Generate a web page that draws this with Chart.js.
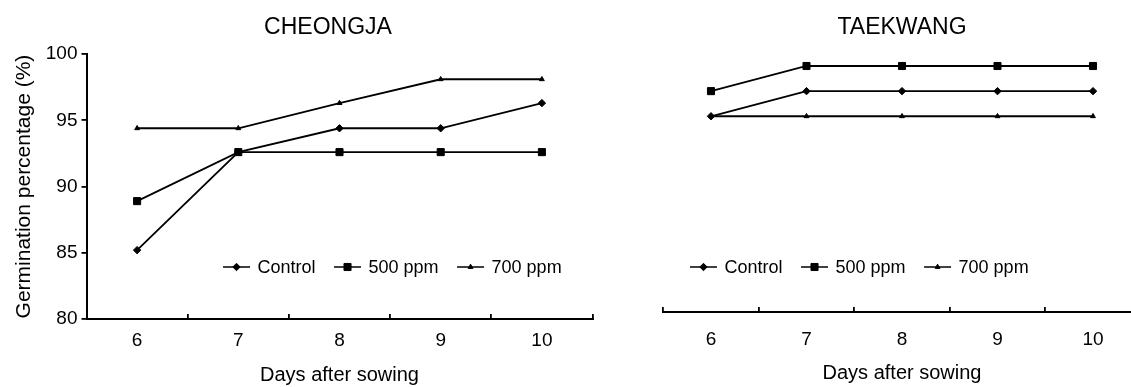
<!DOCTYPE html>
<html lang="en">
<head>
<meta charset="UTF-8">
<title>Germination percentage</title>
<script src="https://cdn.jsdelivr.net/npm/chart.js@4.4.1/dist/chart.umd.min.js"></script>
<style>
  body { margin: 0; background: #fff; overflow: hidden; }
  #wrap { position: relative; width: 1131px; height: 387px; overflow: hidden; background: #fff; }
  #left { position: absolute; left: 0; top: 0; }
  #right { position: absolute; left: 655px; top: 0; }
</style>
</head>
<body>
<div id="wrap">
  <canvas id="left" width="656" height="387"></canvas>
  <canvas id="right" width="505" height="387"></canvas>
</div>
<script>
// days after sowing
const days = ['6', '7', '8', '9', '10'];
const seriesNames = ['Control', '500 ppm', '700 ppm'];
const yTicks = [80, 85, 90, 95, 100];

// CHEONGJA
const cheongjaControl = [85.2, 92.6, 94.4, 94.4, 96.3];
const cheongja500 = [88.9, 92.6, 92.6, 92.6, 92.6];
const cheongja700 = [94.4, 94.4, 96.3, 98.1, 98.1];

// TAEKWANG
const taekwangControl = [95.3, 97.2, 97.2, 97.2, 97.2];
const taekwang500 = [97.2, 99.1, 99.1, 99.1, 99.1];
const taekwang700 = [95.3, 95.3, 95.3, 95.3, 95.3];

const FONT = '"Liberation Sans", Arial, sans-serif';
Chart.defaults.font.family = FONT;
Chart.defaults.color = '#000';

const markers = [
    { pointStyle: 'rectRot', pointRadius: 3.7 },
    { pointStyle: 'rect', pointRadius: 5 },
    { pointStyle: 'triangle', pointRadius: 2.8 }
];

function makeDatasets(values) {
    return values.map((data, i) => ({
        label: seriesNames[i],
        data: data,
        borderColor: '#000',
        backgroundColor: '#000',
        borderWidth: 1.8,
        pointBorderWidth: 1,
        pointStyle: markers[i].pointStyle,
        pointRadius: markers[i].pointRadius,
        tension: 0
    }));
}

// legend drawn as line + marker, like the figure
const lineLegend = {
    id: 'lineLegend',
    afterDraw(chart, args, opts) {
        const ctx = chart.ctx;
        let x = opts.x;
        const y = opts.y;
        ctx.save();
        ctx.font = '18px ' + FONT;
        ctx.textBaseline = 'middle';
        chart.data.datasets.forEach(ds => {
            ctx.strokeStyle = '#000';
            ctx.fillStyle = '#000';
            ctx.lineWidth = 1.5;
            ctx.beginPath();
            ctx.moveTo(x, y);
            ctx.lineTo(x + 27, y);
            ctx.stroke();
            ctx.lineWidth = 1;
            Chart.helpers.drawPoint(ctx, {
                pointStyle: ds.pointStyle,
                radius: ds.pointRadius,
                borderWidth: 1,
                rotation: 0
            }, x + 13.5, y);
            ctx.fillText(ds.label, x + 34.5, y + 1);
            x += 34.5 + ctx.measureText(ds.label).width + 18.5;
        });
        ctx.restore();
    }
};

function xScale(height, pad, titlePad) {
    return {
        type: 'category',
        offset: true,
        grid: { offset: true, drawOnChartArea: false, tickLength: -5, color: '#000', lineWidth: 1.8 },
        border: { color: '#000', width: 2 },
        ticks: { font: { size: 19 }, padding: pad, color: '#000' },
        title: { display: true, text: 'Days after sowing', font: { size: 20 }, padding: { top: 0, bottom: titlePad } },
        afterFit(scale) { scale.height = height; }
    };
}

function titleOpts(text) {
    return {
        display: true,
        text: text,
        color: '#000',
        font: { size: 23, weight: 'normal' },
        padding: { top: 14, bottom: 12.5 }
    };
}

new Chart(document.getElementById('left'), {
    type: 'line',
    data: {
        labels: days,
        datasets: makeDatasets([cheongjaControl, cheongja500, cheongja700])
    },
    options: {
        responsive: false,
        animation: false,
        layout: { padding: 0 },
        plugins: {
            legend: { display: false },
            tooltip: { enabled: false },
            title: titleOpts('CHEONGJA'),
            lineLegend: { x: 223, y: 267 }
        },
        scales: {
            x: xScale(68, 15, 0),
            y: {
                min: 80,
                max: 100,
                afterBuildTicks(scale) { scale.ticks = yTicks.map(v => ({ value: v })); },
                grid: { drawOnChartArea: false, tickLength: 5, color: '#000', lineWidth: 1.8 },
                border: { color: '#000', width: 2 },
                ticks: { font: { size: 19 }, padding: 4, color: '#000' },
                title: { display: true, text: 'Germination percentage (%)', font: { size: 21 }, padding: { top: 12, bottom: 0 } },
                afterFit(scale) { scale.width = 86.5; }
            },
            // empty right-hand strip so the title centres over the whole panel
            yRight: {
                position: 'right',
                grid: { display: false },
                border: { display: false },
                ticks: { display: false },
                afterFit(scale) { scale.width = 63.5; }
            }
        }
    },
    plugins: [lineLegend]
});

new Chart(document.getElementById('right'), {
    type: 'line',
    data: {
        labels: days,
        datasets: makeDatasets([taekwangControl, taekwang500, taekwang700])
    },
    options: {
        responsive: false,
        animation: false,
        layout: { padding: { left: 8.25, right: 19.25, top: 0, bottom: 0 } },
        plugins: {
            legend: { display: false },
            tooltip: { enabled: false },
            title: titleOpts('TAEKWANG'),
            lineLegend: { x: 35, y: 267 }
        },
        scales: {
            x: xScale(75, 21, 2),
            y: { display: false, min: 80.5, max: 100 }
        }
    },
    plugins: [lineLegend]
});
</script>
</body>
</html>
